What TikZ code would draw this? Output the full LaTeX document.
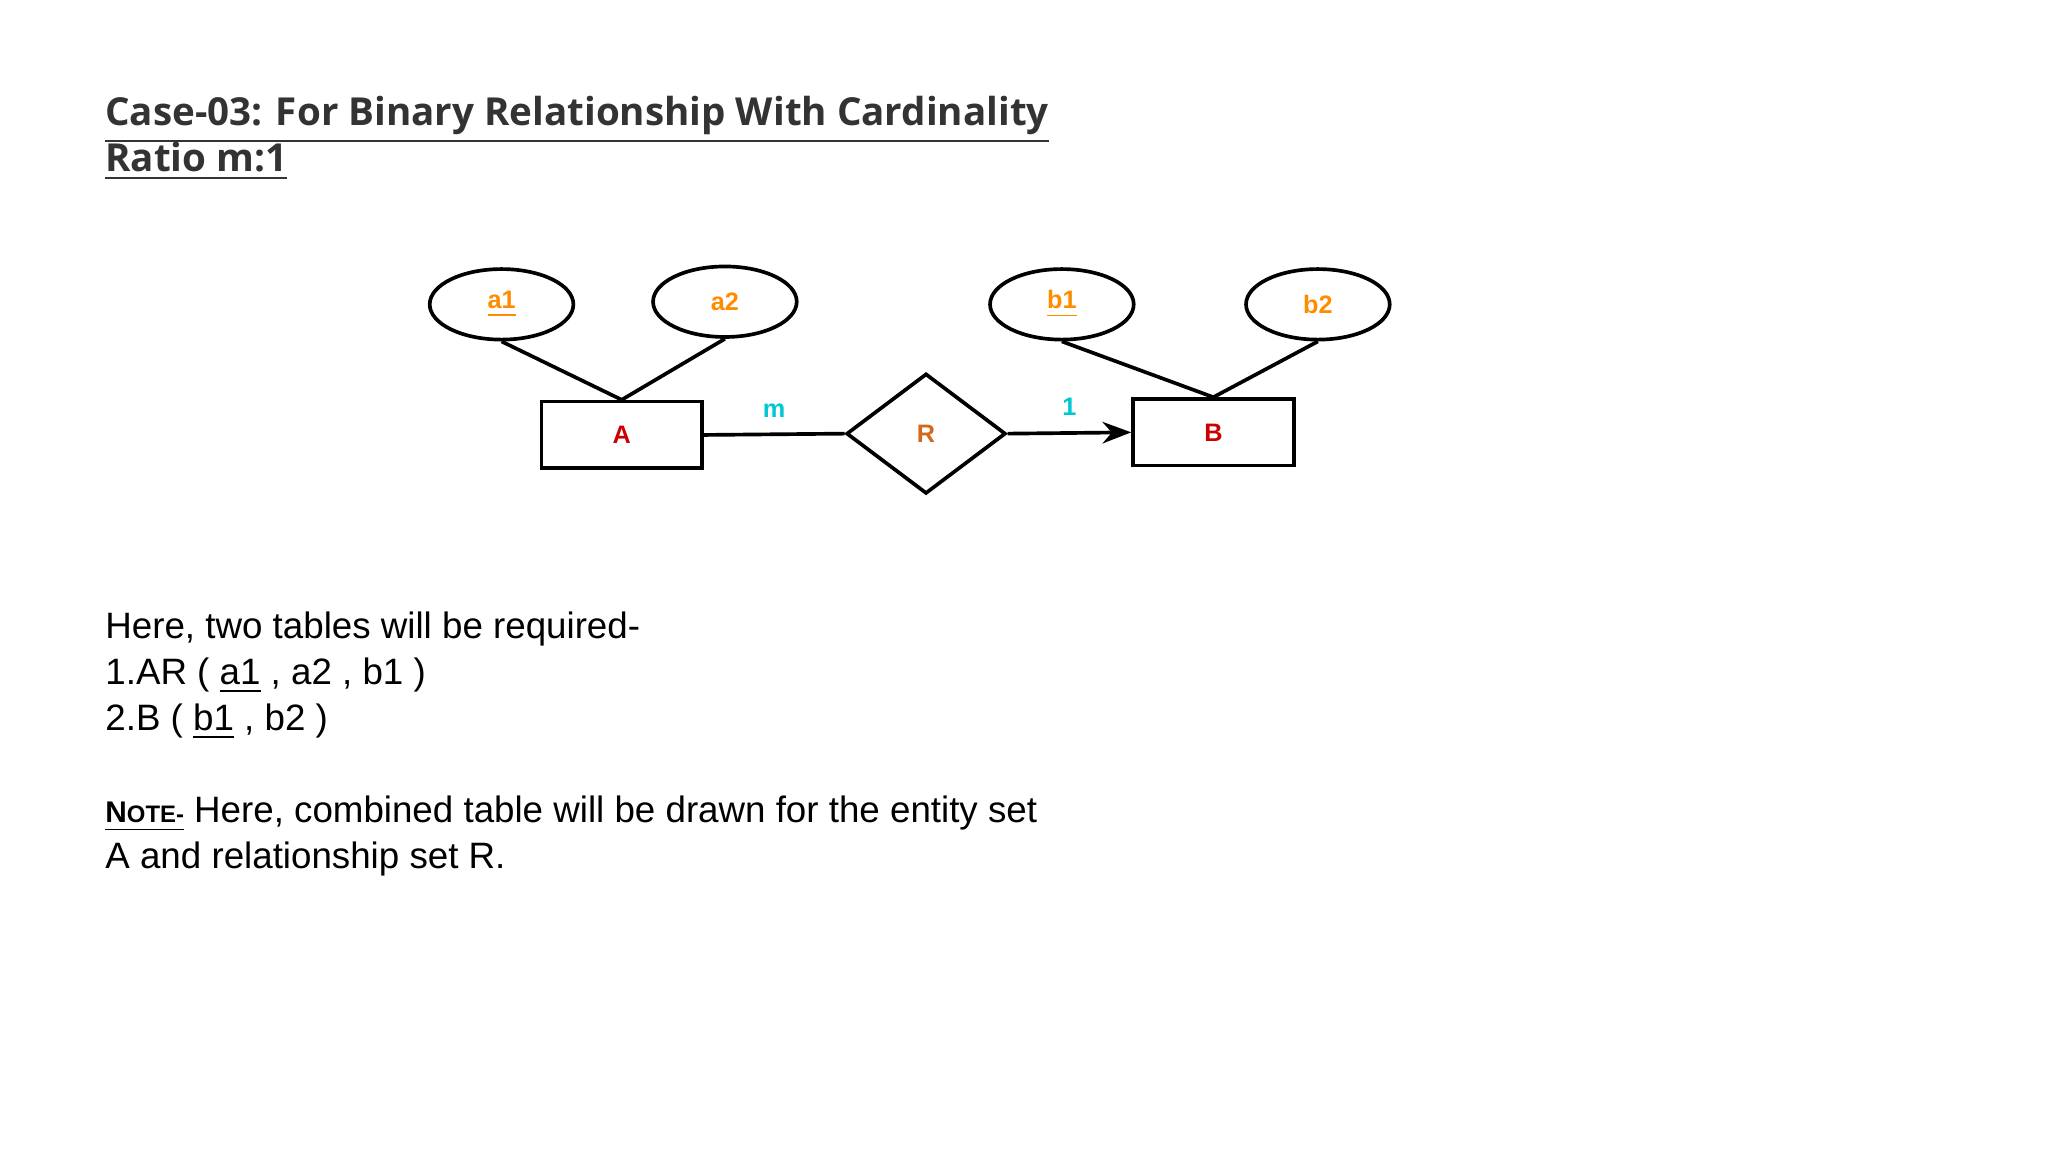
\documentclass[tikz,border=0pt]{standalone}
\usepackage{fontspec}
\setmainfont{Liberation Sans}
\newfontfamily\titlefont{Open Sans}
\usetikzlibrary{shapes.geometric,arrows.meta}
\definecolor{attr}{HTML}{FF8C00}
\definecolor{ent}{HTML}{CC0000}
\definecolor{rel}{HTML}{D2691E}
\definecolor{card}{HTML}{00C8D2}
\begin{document}
\begin{tikzpicture}[x=0.1mm,y=-0.1mm,
  lbl/.style={font=\fontsize{5.5}{6}\selectfont\bfseries},
  attrib/.style={ellipse,draw,thick,minimum width=11mm,minimum height=5.4mm,inner sep=0pt,lbl,text=attr},
  entity/.style={rectangle,draw,thick,minimum width=12.3mm,minimum height=5.1mm,lbl,text=ent},
  relat/.style={diamond,draw,thick,minimum width=12.2mm,minimum height=9.2mm,inner sep=0pt,aspect=1.33,lbl,text=rel},
  conn/.style={thick},
  txt/.style={anchor=base west,inner sep=0pt,font=\fontsize{8}{9.6}\selectfont}]
\useasboundingbox (0,0) rectangle (1568,882);
\node[anchor=base west,inner sep=0pt,font=\titlefont\bfseries\fontsize{8.4}{10}\selectfont,text=black!80] (t1) at (80,96) {\underline{Case-03: For Binary Relationship With Cardinality}};
\node[anchor=base west,inner sep=0pt,font=\titlefont\bfseries\fontsize{8.4}{10}\selectfont,text=black!80] (t2) at (80,131) {\underline{Ratio m:1}};

\node[attrib] (a1) at (384,233) {\underline{a1}};
\node[attrib] (a2) at (555,231) {a2};
\node[attrib] (b1) at (813,233) {\underline{b1}};
\node[attrib] (b2) at (1009,233) {b2};
\node[entity] (A) at (476,333) {A};
\node[entity] (B) at (929,331) {B};
\node[relat] (R) at (709,332) {R};

\draw[conn] (a1.south) -- (A.north);
\draw[conn] (a2.south) -- (A.north);
\draw[conn] (b1.south) -- (B.north);
\draw[conn] (b2.south) -- (B.north);
\draw[conn] (A.east) -- node[above,lbl,text=card] (m) {m} (R.west);
\draw[conn,-{Stealth[length=2.2mm]}] (R.east) -- node[above,lbl,text=card] (one) {1} (B.west);

\node[txt] (h1) at (80,489) {Here, two tables will be required-};
\node[txt] (h2) at (80,524) {1.AR ( \underline{a1} , a2 , b1 )};
\node[txt] (h3) at (80,559) {2.B ( \underline{b1} , b2 )};
\node[txt] (h4) at (80,630) {\underline{\textbf{\fontsize{6.5}{8}\selectfont N\fontsize{5.2}{6}\selectfont OTE-}} Here, combined table will be drawn for the entity set};
\node[txt] (h5) at (80,665) {A and relationship set R.};
\end{tikzpicture}
\end{document}
